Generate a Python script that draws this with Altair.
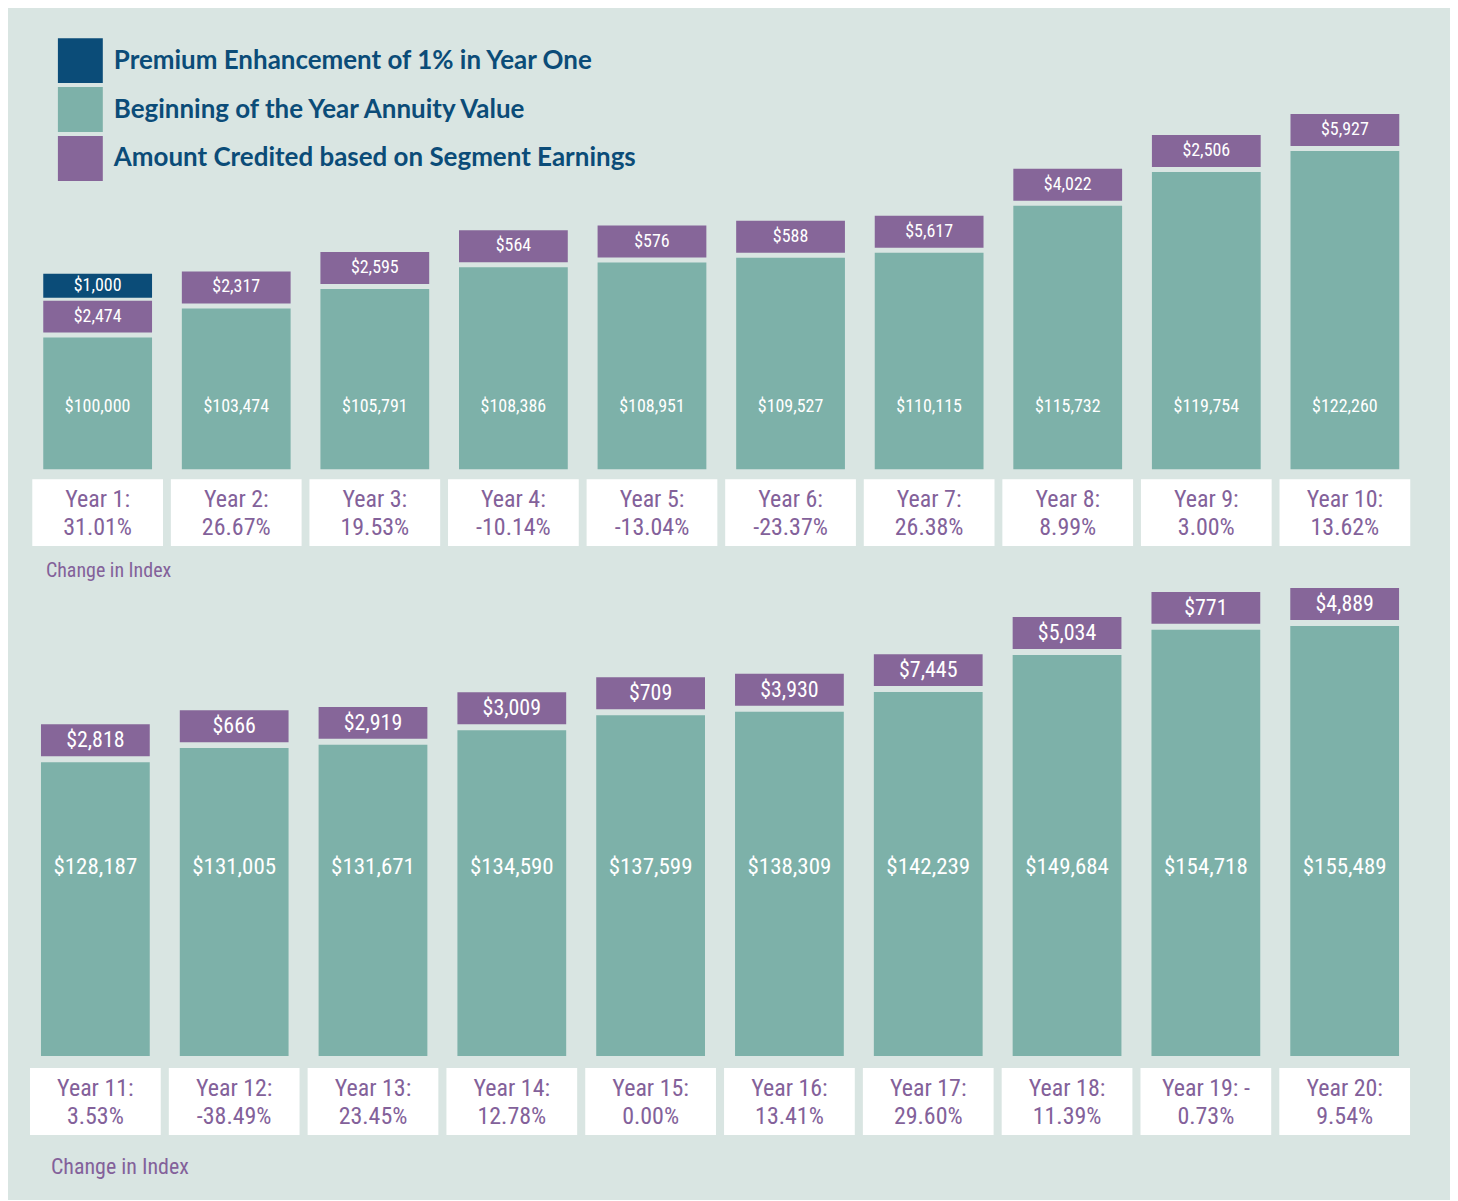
import altair as alt
import pandas as pd

# ---------------- data ----------------
legend_labels = [
    "Premium Enhancement of 1% in Year One",
    "Beginning of the Year Annuity Value",
    "Amount Credited based on Segment Earnings",
]
series_colors = ["#0b4c78", "#7db1a9", "#866699"]
change_label = "Change in Index"

top_years = ["Year 1", "Year 2", "Year 3", "Year 4", "Year 5",
             "Year 6", "Year 7", "Year 8", "Year 9", "Year 10"]
top_line1 = ["Year 1:", "Year 2:", "Year 3:", "Year 4:", "Year 5:",
             "Year 6:", "Year 7:", "Year 8:", "Year 9:", "Year 10:"]
top_line2 = ["31.01%", "26.67%", "19.53%", "-10.14%", "-13.04%",
             "-23.37%", "26.38%", "8.99%", "3.00%", "13.62%"]
top_values = [100000, 103474, 105791, 108386, 108951,
              109527, 110115, 115732, 119754, 122260]
top_credited = [2474, 2317, 2595, 564, 576, 588, 5617, 4022, 2506, 5927]
top_enhancement = [1000, None, None, None, None, None, None, None, None, None]

bot_years = ["Year 11", "Year 12", "Year 13", "Year 14", "Year 15",
             "Year 16", "Year 17", "Year 18", "Year 19", "Year 20"]
bot_line1 = ["Year 11:", "Year 12:", "Year 13:", "Year 14:", "Year 15:",
             "Year 16:", "Year 17:", "Year 18:", "Year 19: -", "Year 20:"]
bot_line2 = ["3.53%", "-38.49%", "23.45%", "12.78%", "0.00%",
             "13.41%", "29.60%", "11.39%", "0.73%", "9.54%"]
bot_values = [128187, 131005, 131671, 134590, 137599,
              138309, 142239, 149684, 154718, 155489]
bot_credited = [2818, 666, 2919, 3009, 709, 3930, 7445, 5034, 771, 4889]
bot_enhancement = [None] * 10

# ---------------- style ----------------
BG = "#d9e5e2"
LABEL_PURPLE = "#83619a"
NARROW = '"Roboto Condensed", "Liberation Sans Narrow", sans-serif'
W = 1445


def money(v):
    return "${:,.0f}".format(v)


def panel(years, line1, line2, values, credited, enh, g, with_legend):
    df = pd.DataFrame({
        "year": years, "line1": line1, "line2": line2,
        "value": values, "credited": credited,
        "enhancement": [e if e is not None else 0 for e in enh],
    })
    df["value_label"] = [money(v) for v in df["value"]]
    df["credit_label"] = [money(v) for v in df["credited"]]
    df["enh_label"] = [money(v) if v else "" for v in df["enhancement"]]
    df["s_blue"] = legend_labels[0]
    df["s_teal"] = legend_labels[1]
    df["s_purple"] = legend_labels[2]

    base = alt.Chart(df)
    x = alt.X("year:N", sort=years,
              scale=alt.Scale(domain=years, range=g["xrange"], paddingInner=0, paddingOuter=0),
              axis=None)
    yq = alt.Y("value:Q",
               scale=alt.Scale(domain=g["ydom"], range=[g["bottom"], 0], zero=False, nice=False),
               axis=None)

    if with_legend:
        cscale = alt.Scale(domain=legend_labels, range=series_colors)
        teal_color = alt.Color(
            "s_teal:N", scale=cscale, title=None,
            legend=alt.Legend(
                orient="none", legendX=50, legendY=29, title=None, direction="vertical",
                symbolType="square", symbolSize=2025, symbolStrokeWidth=0, symbolOpacity=1,
                labelFont="Lato", labelFontSize=26, labelFontWeight="bold",
                labelColor="#0b4c78", labelOffset=11, rowPadding=4, labelLimit=0,
                values=legend_labels,
            ),
        )
        purple_color = alt.Color("s_purple:N", scale=cscale, title=None)
        blue_color = alt.Color("s_blue:N", scale=cscale, title=None)
    else:
        teal_color = alt.value(series_colors[1])
        purple_color = alt.value(series_colors[2])
        blue_color = alt.value(series_colors[0])

    gap = g["gap"]
    bh = 32

    teal = base.mark_bar(width=109).encode(
        x=x, y=yq, y2=alt.datum(g["ydom"][0]), color=teal_color)
    teal_txt = base.mark_text(font=NARROW, fontSize=g["fs_val"], color="white",
                              baseline="middle").encode(
        x=x, y=alt.value(g["val_y"]), text="value_label:N")

    purple = base.mark_bar(width=109, yOffset=-gap, y2Offset=-(gap + bh)).encode(
        x=x, y=yq, y2=alt.Y2("value:Q"), color=purple_color)
    purple_txt = base.mark_text(font=NARROW, fontSize=g["fs_cred"], color="white",
                                baseline="middle", dy=-(gap + bh / 2)).encode(
        x=x, y=yq, text="credit_label:N")

    layers = [teal, teal_txt, purple, purple_txt]

    if any(e is not None for e in enh):
        eb = base.transform_filter("datum.enhancement > 0")
        blue = eb.mark_bar(width=109, yOffset=-(gap + bh + 3), y2Offset=-(gap + bh + 27)).encode(
            x=x, y=yq, y2=alt.Y2("value:Q"), color=blue_color)
        blue_txt = eb.mark_text(font=NARROW, fontSize=g["fs_cred"], color="white",
                                baseline="middle", dy=-(gap + bh + 15)).encode(
            x=x, y=yq, text="enh_label:N")
        layers += [blue, blue_txt]

    box = base.mark_bar(width=131, color="white").encode(
        x=x, y=alt.value(g["box"][0]), y2=alt.value(g["box"][1]))
    l1 = base.mark_text(font=NARROW, fontSize=g["fs_year"], color=LABEL_PURPLE,
                        baseline="middle").encode(
        x=x, y=alt.value(g["lines"][0]), text="line1:N")
    l2 = base.mark_text(font=NARROW, fontSize=g["fs_year"], color=LABEL_PURPLE,
                        baseline="middle").encode(
        x=x, y=alt.value(g["lines"][1]), text="line2:N")
    cdf = pd.DataFrame({"t": [change_label]})
    chg = alt.Chart(cdf).mark_text(font=NARROW, fontSize=g["fs_chg"], color=LABEL_PURPLE,
                                   align="left", baseline="middle").encode(
        x=alt.value(g["chg"][0]), y=alt.value(g["chg"][1]), text="t:N")
    layers += [box, l1, l2, chg]

    return alt.layer(*layers).properties(width=W, height=g["height"])


top_geom = dict(height=580, bottom=461, ydom=[84286, 139167], xrange=[20.4, 1409.1],
                gap=5, val_y=399, box=[471, 538], lines=[492, 520], chg=(38, 563),
                fs_val=18, fs_cred=18, fs_year=24, fs_chg=20)
bot_geom = dict(height=612, bottom=469, ydom=[69289, 163089], xrange=[18.0, 1409.0],
                gap=6, val_y=280, box=[481, 548], lines=[502, 530], chg=(43, 580),
                fs_val=23, fs_cred=22, fs_year=24, fs_chg=22)

top = panel(top_years, top_line1, top_line2, top_values, top_credited, top_enhancement,
            top_geom, True)
bot = panel(bot_years, bot_line1, bot_line2, bot_values, bot_credited, bot_enhancement,
            bot_geom, False)

chart = alt.vconcat(top, bot, spacing=0, bounds="flush").properties(
    padding=0, background=BG
).configure_view(stroke=None)

chart.save("out.html", embed_options={"renderer": "svg", "actions": False})
